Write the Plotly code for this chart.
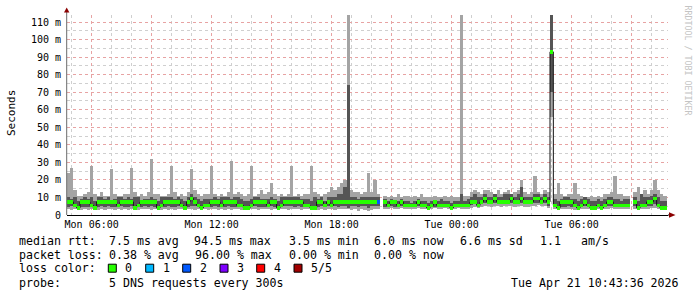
import plotly.graph_objects as go
import pandas as pd

# ---------------- data (ms), one sample every 10 minutes from Mon 04:45 ----------------
start_time = "2026-04-20 04:45"
step = "10min"

median_ms = [
    7.5, 7.5, 5.5, 4, 7.5, 7.5,   7.5, 5.5, 4, 7.5, 7.5, 7.5,   7.5, 7.5, 7.5, 5.5, 7.5, 7.5,
    7.5, 7.5, 4, 5.5, 7.5, 7.5,   7.5, 7.5, 7.5, 4, 5.5, 7.5,   7.5, 7.5, 7.5, 7.5, 5.5, 4,
    7.5, 9.5, 7.5, 5.5, 4, 5.5,   5.5, 7.5, 7.5, 7.5, 5.5, 7.5,   7.5, 7.5, 7.5, 5.5, 5.5, 4,
    4, 5.5, 7.5, 7.5, 7.5, 7.5,   5.5, 7.5, 7.5, 4, 5.5, 7.5,   7.5, 7.5, 7.5, 7.5, 7.5, 5.5,
    5.5, 4, 4, 7.5, 7.5, 5.5,     7.5, 5.5, 7.5, 7.5, 7.5, 7.5,   7.5, 7.5, 7.5, 7.5, 7.5, 7.5,
    7.5, 7.5, 7.5, 7.5, None, 7.5,  5.5, 7.5, 7.5, 5.5, 7.5, 5.5,  5.5, 5.5, 5.5, 7.5, 5.5, 5.5,
    4, 5.5, 7.5, 5.5, 5.5, 5.5,   5.5, 4, 5.5, 5.5, 5.5, 5.5,   5.5, 7.5, 7.5, 5.5, 7.5, 9.5,
    7.5, 7.5, 9.5, 7.5, 7.5, 7.5,  7.5, 9.5, 7.5, 7.5, 9.5, 7.5,  7.5, 7.5, 9.5, 9.5, 7.5, 9.5,
    7.5, 93, 5.5, 4, 7.5, 7.5,    7.5, 7.5, 5.5, 4, 5.5, 7.5,   5.5, 4, 4, 5.5, 4, 5.5,
    7.5, 7.5, 5.5, 5.5, 5.5, 5.5,  5.5, None, 7.5, 4, 5.5, 5.5,  7.5, 7.5, 9.5, 5.5, 4, 4,
]
ping_min = [
    3.5, 3, 3.5, 3.5, 3, 3.5,  3, 3.5, 3.5, 3, 3.5, 3,  3.5, 3.5, 3, 3.5, 3, 3.5,
    3, 3.5, 3.5, 3, 3.5, 3.5,  3.5, 3, 3.5, 3.5, 3, 3.5,  3, 3.5, 3, 3.5, 3.5, 3,
    3.5, 3.5, 3, 3.5, 3, 3.5,  3, 3.5, 3.5, 3, 3.5, 3,  3.5, 3, 3.5, 3.5, 3, 3.5,
    3, 3.5, 3.5, 3, 3.5, 3.5,  3.5, 3, 3.5, 3, 3.5, 3.5,  3, 3.5, 3.5, 3.5, 3, 3.5,
    3.5, 3, 3.5, 3, 3.5, 3,  3.5, 3.5, 3, 3.5, 3.5, 3.5,  3.5, 3, 3.5, 2.5, 3.5, 3,
    2, 3, 3.5, 3.5, None, 3.5,  3.5, 4, 3.5, 3.5, 4, 3.5,  3.5, 3.5, 3.5, 4, 3.5, 3.5,
    3.5, 3.5, 4, 3.5, 3.5, 4,  3.5, 3.5, 3.5, 4, 3.5, 3.5,  3.5, 4, 4.5, 4, 4.5, 5,
    5, 4.5, 5, 5, 4.5, 5,  5, 5, 4.5, 5, 5, 4.5,  4.5, 5, 5, 5.5, 5, 5,
    4, 56, 3.5, 3, 3.5, 3.5,  3.5, 3.5, 3, 3, 3.5, 3.5,  3.5, 3, 3, 3.5, 3, 3.5,
    3.5, 4, 3.5, 3.5, 3.5, 3.5,  3.5, None, 3.5, 3, 3.5, 3.5,  3.5, 4, 4, 3.5, 3, 3,
]
ping_low = [
    4.5, 5, 4.5, 4, 4.5, 4.5,  4.5, 4.5, 4, 4.5, 5, 4.5,  5, 4.5, 4.5, 4.5, 5, 4.5,
    4.5, 5, 4, 4.5, 4.5, 5,  4.5, 5, 4.5, 4, 4.5, 4.5,  5, 4.5, 4.5, 5, 4.5, 4,
    4.5, 5, 5, 4.5, 4, 4.5,  4.5, 4.5, 5, 4.5, 4.5, 4.5,  5, 4.5, 4.5, 5, 4.5, 4,
    4, 4.5, 5, 4.5, 4.5, 4.5,  4.5, 5, 4.5, 4, 4.5, 5,  5, 5, 4.5, 5, 4.5, 4.5,
    4.5, 4, 4, 4.5, 5, 4.5,  5, 4.5, 5, 4.5, 5, 5,  4, 5, 5, 4.5, 5, 5,
    4, 5, 5, 5, None, 4.5,  4.5, 5, 4.5, 4.5, 5, 4.5,  4.5, 4.5, 4.5, 5, 4.5, 4.5,
    4, 4.5, 4.5, 4.5, 5, 4.5,  4.5, 4, 4.5, 4.5, 4.5, 4.5,  4.5, 5.5, 6, 5, 6, 7,
    6, 6, 7, 6, 6, 6,  6, 7, 6, 6, 7, 6,  6, 6, 7, 7, 6, 7,
    5, 70, 4.5, 4, 4.5, 4.5,  5, 4.5, 4.5, 4, 4.5, 5,  4.5, 4, 4, 4.5, 4, 4.5,
    5, 5, 4.5, 4.5, 4.5, 4.5,  4.5, None, 5, 4, 4.5, 4.5,  5, 5, 6, 4.5, 4, 4,
]
ping_high = [
    10, 9, 10, 8, 9, 10,  9, 10, 8, 10, 10, 9,  10, 8, 9, 10, 10, 9,
    10, 9, 10, 10, 8, 9,  9, 10, 9, 8, 10, 10,  10, 10, 9, 10, 9, 8,
    10, 12, 10, 9, 8, 9,  9, 9, 10, 9, 10, 10,  10, 9, 10, 10, 9, 8,
    8, 9, 10, 10, 9, 9,  9, 10, 9, 8, 10, 10,  10, 10, 10, 10, 9, 9,
    9, 8, 10, 9, 10, 8,  10, 10, 10, 12, 12, 16,  74, 10, 10, 9, 10, 10,
    10, 10, 10, 10, None, 9,  8, 9, 8, 8, 9, 8,  8, 7, 8, 9, 8, 8,
    7, 8, 8, 8, 9, 8,  8, 7, 8, 8, 12, 8,  9, 10, 12, 10, 10, 12,
    10, 10, 12, 10, 10, 12,  12, 12, 10, 12, 16, 10,  10, 10, 12, 12, 10, 12,
    10, 120, 9, 8, 9, 10,  10, 9, 9, 8, 9, 10,  9, 8, 8, 9, 8, 9,
    10, 10, 9, 9, 8, 9,  9, None, 10, 8, 12, 10,  10, 11, 12, 10, 8, 8,
]
ping_max = [
    24, 27, 14, 11, 11, 12,  13, 28, 12, 11, 13, 11,  11, 26, 12, 11, 11, 12,
    12, 27, 13, 11, 12, 11,  13, 32, 12, 12, 11, 11,  12, 28, 13, 11, 12, 11,
    13, 26, 14, 12, 11, 12,  12, 28, 12, 11, 12, 11,  13, 31, 12, 13, 12, 11,
    12, 28, 11, 12, 14, 12,  13, 18, 12, 11, 12, 11,  12, 28, 11, 12, 11, 12,
    12, 28, 13, 12, 11, 12,  13, 16, 14, 16, 18, 20,  120, 14, 13, 13, 12, 13,
    24, 13, 20, 12, None, 11,  10, 11, 10, 12, 10, 11,  11, 10, 11, 10, 12, 10,
    10, 10, 11, 10, 10, 11,  10, 11, 10, 10, 120, 11,  11, 13, 14, 13, 12, 14,
    14, 13, 12, 14, 12, 13,  14, 12, 13, 14, 20, 13,  12, 13, 22, 13, 12, 14,
    13, 120, 12, 18, 12, 11,  12, 12, 18, 12, 11, 10,  10, 11, 10, 11, 10, 12,
    12, 13, 22, 12, 12, 11,  11, None, 13, 16, 12, 14,  12, 14, 20, 14, 12, 11,
]
# lost pings per sample (0..5)
loss = [
    0, 0, 0, 0, 0, 0,  0, 0, 0, 0, 0, 0,  0, 0, 0, 0, 0, 0,
    0, 0, 0, 0, 0, 0,  0, 0, 0, 0, 0, 0,  0, 0, 0, 0, 0, 0,
    0, 0, 0, 0, 0, 0,  0, 0, 0, 0, 0, 0,  0, 0, 0, 0, 0, 0,
    0, 0, 0, 0, 0, 0,  0, 0, 0, 0, 0, 0,  0, 0, 0, 0, 0, 0,
    0, 0, 0, 0, 0, 0,  0, 0, 0, 0, 0, 0,  0, 0, 0, 0, 0, 0,
    0, 0, 0, 2, 0, 0,  0, 0, 0, 0, 0, 0,  0, 0, 0, 0, 0, 0,
    0, 0, 0, 0, 0, 0,  0, 0, 0, 0, 0, 0,  0, 0, 0, 0, 0, 0,
    0, 0, 0, 0, 0, 0,  0, 0, 0, 0, 0, 0,  0, 0, 0, 0, 0, 0,
    0, 0, 0, 0, 0, 0,  0, 0, 0, 0, 0, 0,  0, 0, 0, 0, 0, 0,
    0, 0, 0, 0, 0, 0,  0, 0, 0, 0, 0, 0,  0, 0, 0, 0, 0, 0,
]

loss_labels = ["0", "1", "2", "3", "4", "5/5"]
loss_colors = ["#26ff00", "#00b8ff", "#0059ff", "#7e00ff", "#ff0000", "#a10000"]

y_tick_vals = [0, 10, 20, 30, 40, 50, 60, 70, 80, 90, 100, 110]
y_tick_text = ["0", "10 m", "20 m", "30 m", "40 m", "50 m", "60 m", "70 m", "80 m", "90 m", "100 m", "110 m"]
x_tick_vals = ["2026-04-20 06:00", "2026-04-20 09:00", "2026-04-20 12:00", "2026-04-20 15:00",
               "2026-04-20 18:00", "2026-04-20 21:00", "2026-04-21 00:00", "2026-04-21 03:00",
               "2026-04-21 06:00", "2026-04-21 09:00"]
x_tick_text = ["Mon 06:00", "", "Mon 12:00", "", "Mon 18:00", "", "Tue 00:00", "", "Tue 06:00", ""]
x_range = ["2026-04-20 04:46", "2026-04-21 10:49"]
y_range = [0, 114]

rtt_stats = ["7.5 ms avg", "94.5 ms max", "3.5 ms min", "6.0 ms now", "6.6 ms sd", "1.1", "am/s"]
loss_stats = ["0.38 % avg", "96.00 % max", "0.00 % min", "0.00 % now"]
probe_text = "5 DNS requests every 300s"
stamp_text = "Tue Apr 21 10:43:36 2026"

# ---------------- figure ----------------
W, H = 697, 297
ML, MR, MT, MB = 67, 29, 15, 82
PW, PH = W - ML - MR, H - MT - MB


def fx(px):
    return (px - ML) / PW


def fy(py):
    return (H - MB - py) / PH


times = pd.date_range(start_time, periods=len(median_ms), freq=step)
step_ms = pd.Timedelta(step).total_seconds() * 1000
half_w = 1.0  # half height of loss-coloured median band (ms)


def span(lo, hi):
    return [None if (a is None or b is None) else b - a for a, b in zip(lo, hi)]


fig = go.Figure()
fig.add_trace(go.Bar(x=times, base=ping_min, y=span(ping_min, ping_max), width=step_ms, offset=0,
                     marker=dict(color="#a4a4a4", line=dict(width=0)), hoverinfo="skip"))
fig.add_trace(go.Bar(x=times, base=ping_low, y=span(ping_low, ping_high), width=step_ms, offset=0,
                     marker=dict(color="#555555", line=dict(width=0)), hoverinfo="skip"))
fig.add_trace(go.Scatter(x=times, y=median_ms, mode="lines", line=dict(shape="hv", color="#101010", width=1),
                         hoverinfo="skip", connectgaps=False))
# loss-coloured median band on an overlaying axis so it is painted above the median line
fig.add_trace(go.Bar(x=times, base=[None if m is None else m - half_w for m in median_ms],
                     y=[None if m is None else 2 * half_w for m in median_ms], width=step_ms, offset=0,
                     marker=dict(color=[loss_colors[l] for l in loss], line=dict(width=0)), hoverinfo="skip",
                     xaxis="x2", yaxis="y2"))

mono = "DejaVu Sans Mono"
fig.update_layout(
    width=W, height=H, margin=dict(l=ML, r=MR, t=MT, b=MB, pad=0),
    paper_bgcolor="white", plot_bgcolor="white", showlegend=False, barmode="overlay", bargap=0,
    font=dict(family=mono, size=10, color="black"),
    xaxis2=dict(overlaying="x", matches="x", visible=False, type="date"),
    yaxis2=dict(overlaying="y", matches="y", visible=False),
)
fig.update_layout(
    xaxis=dict(
        type="date", range=x_range, tickmode="array", tickvals=x_tick_vals, ticktext=x_tick_text,
        showgrid=True, gridcolor="#e7a3a3", griddash="dot", gridwidth=1, ticks="", zeroline=False,
        showline=True, linecolor="black", linewidth=1, tickfont=dict(family=mono, size=10),
        minor=dict(tick0="2026-04-20 05:00", dtick=3600000, showgrid=True, gridcolor="#cfcfcf",
                   griddash="dot", gridwidth=1),
    ),
    yaxis=dict(
        range=y_range, tickmode="array", tickvals=y_tick_vals, ticktext=y_tick_text,
        showgrid=True, gridcolor="#e7a3a3", griddash="dot", gridwidth=1, ticks="", zeroline=False,
        showline=False, tickfont=dict(family=mono, size=10), ticklabelstandoff=5,
        minor=dict(tick0=0, dtick=5, showgrid=True, gridcolor="#cfcfcf", griddash="dot", gridwidth=1),
    ),
)

shapes = []
# left axis line extending above the plot, with arrow heads
shapes.append(dict(type="line", xref="paper", yref="paper", x0=fx(66.7), x1=fx(66.7), y0=fy(215), y1=fy(11),
                   line=dict(color="#6a6a6a", width=1)))
shapes.append(dict(type="path", xref="paper", yref="paper",
                   path=f"M {fx(66.7)} {fy(7.5)} L {fx(64)} {fy(12.5)} L {fx(69.4)} {fy(12.5)} Z",
                   fillcolor="#8b0000", line=dict(width=0)))
shapes.append(dict(type="line", xref="paper", yref="paper", x0=fx(668), x1=fx(670), y0=fy(215), y1=fy(215),
                   line=dict(color="black", width=1)))
shapes.append(dict(type="path", xref="paper", yref="paper",
                   path=f"M {fx(675.5)} {fy(215)} L {fx(669)} {fy(212.3)} L {fx(669)} {fy(217.7)} Z",
                   fillcolor="#8b0000", line=dict(width=0)))

ann = []


def text(s, px, py, xanchor="left", size=11.6, color="black", angle=0):
    ann.append(dict(text=s, x=fx(px), y=fy(py), xref="paper", yref="paper", xanchor=xanchor,
                    yanchor="middle", showarrow=False, textangle=angle,
                    font=dict(family=mono, size=size, color=color)))


text("Seconds", 11, 113, xanchor="center", size=11, angle=-90)
text("RRDTOOL / TOBI OETIKER", 687.5, 60, xanchor="center", size=8.3, color="#c4c4c4", angle=90)

row_y = [241, 255, 268.3, 283.3]
text("median rtt:", 16.7, row_y[0])
for s, px in zip(rtt_stats, [107.3, 192.3, 286.7, 372.3, 458.3, 537.7, 579.3]):
    text(s, px, row_y[0])
text("packet loss:", 16.7, row_y[1])
for s, px in zip(loss_stats, [107.3, 193.3, 286.7, 372.3]):
    text(s, px, row_y[1])
text("loss color:", 16.7, row_y[2])
sw_x = [108.3, 145.7, 182.7, 220, 256.7, 294]
for lab, col, px in zip(loss_labels, loss_colors, sw_x):
    shapes.append(dict(type="rect", xref="paper", yref="paper", x0=fx(px), x1=fx(px + 8),
                       y0=fy(264.2), y1=fy(272.2), fillcolor=col, line=dict(color="black", width=1)))
    text(lab, px + 15, row_y[2])
text("probe:", 16.7, row_y[3])
text(probe_text, 107.3, row_y[3])
text(stamp_text, 680.5, row_y[3], xanchor="right")

fig.update_layout(shapes=shapes, annotations=ann)
fig.write_html("out.html")
